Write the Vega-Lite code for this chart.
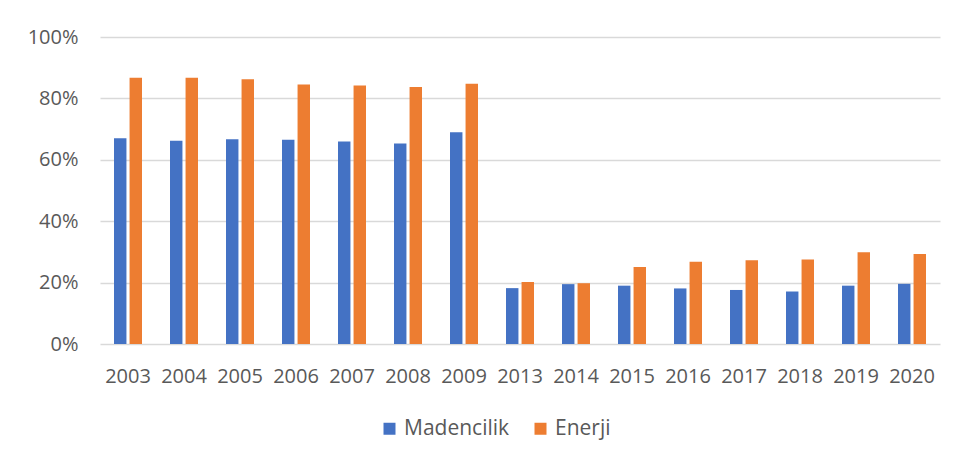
{
  "$schema": "https://vega.github.io/schema/vega-lite/v6.json",
  "autosize": {"type": "none"},
  "width": 840,
  "height": 307,
  "padding": {"left": 100, "top": 37, "right": 16, "bottom": 118},
  "background": "white",
  "config": {
    "font": "Open Sans",
    "view": {"stroke": null},
    "axis": {"labelFont": "Open Sans", "labelColor": "#595959", "labelFontSize": 20}
  },
  "data": {
    "values": [
      {"year": "2003", "series": "Madencilik", "value": 0.670},
      {"year": "2003", "series": "Enerji", "value": 0.867},
      {"year": "2004", "series": "Madencilik", "value": 0.662},
      {"year": "2004", "series": "Enerji", "value": 0.867},
      {"year": "2005", "series": "Madencilik", "value": 0.667},
      {"year": "2005", "series": "Enerji", "value": 0.862},
      {"year": "2006", "series": "Madencilik", "value": 0.665},
      {"year": "2006", "series": "Enerji", "value": 0.845},
      {"year": "2007", "series": "Madencilik", "value": 0.660},
      {"year": "2007", "series": "Enerji", "value": 0.842},
      {"year": "2008", "series": "Madencilik", "value": 0.653},
      {"year": "2008", "series": "Enerji", "value": 0.837},
      {"year": "2009", "series": "Madencilik", "value": 0.690},
      {"year": "2009", "series": "Enerji", "value": 0.848},
      {"year": "2013", "series": "Madencilik", "value": 0.182},
      {"year": "2013", "series": "Enerji", "value": 0.202},
      {"year": "2014", "series": "Madencilik", "value": 0.195},
      {"year": "2014", "series": "Enerji", "value": 0.198},
      {"year": "2015", "series": "Madencilik", "value": 0.190},
      {"year": "2015", "series": "Enerji", "value": 0.251},
      {"year": "2016", "series": "Madencilik", "value": 0.181},
      {"year": "2016", "series": "Enerji", "value": 0.268},
      {"year": "2017", "series": "Madencilik", "value": 0.176},
      {"year": "2017", "series": "Enerji", "value": 0.273},
      {"year": "2018", "series": "Madencilik", "value": 0.171},
      {"year": "2018", "series": "Enerji", "value": 0.275},
      {"year": "2019", "series": "Madencilik", "value": 0.190},
      {"year": "2019", "series": "Enerji", "value": 0.299},
      {"year": "2020", "series": "Madencilik", "value": 0.196},
      {"year": "2020", "series": "Enerji", "value": 0.293}
    ]
  },
  "mark": {"type": "bar"},
  "encoding": {
    "x": {
      "field": "year", "type": "nominal", "title": null,
      "scale": {"paddingInner": 0.5, "paddingOuter": 0.25},
      "axis": {"labelAngle": 0, "ticks": false, "domain": false, "labelPadding": 22, "grid": false}
    },
    "xOffset": {
      "field": "series", "type": "nominal",
      "scale": {"domain": ["Madencilik", "Enerji"], "paddingInner": 0.2, "paddingOuter": 0}
    },
    "y": {
      "field": "value", "type": "quantitative", "title": null,
      "scale": {"domain": [0, 1], "nice": false},
      "axis": {"format": ".0%", "values": [0, 0.2, 0.4, 0.6, 0.8, 1], "ticks": false, "domain": false,
               "labelPadding": 22, "gridColor": "#d9d9d9", "gridWidth": 1.5}
    },
    "color": {
      "field": "series", "type": "nominal",
      "scale": {"domain": ["Madencilik", "Enerji"], "range": ["#4472C4", "#ED7D31"]},
      "legend": {
        "title": null, "orient": "none", "direction": "horizontal",
        "legendX": 279, "legendY": 381,
        "symbolType": "square", "symbolSize": 144, "symbolStrokeWidth": 0,
        "labelFont": "Open Sans", "labelFontSize": 21, "labelColor": "#595959",
        "labelOffset": 4, "columnPadding": 20
      }
    }
  }
}
